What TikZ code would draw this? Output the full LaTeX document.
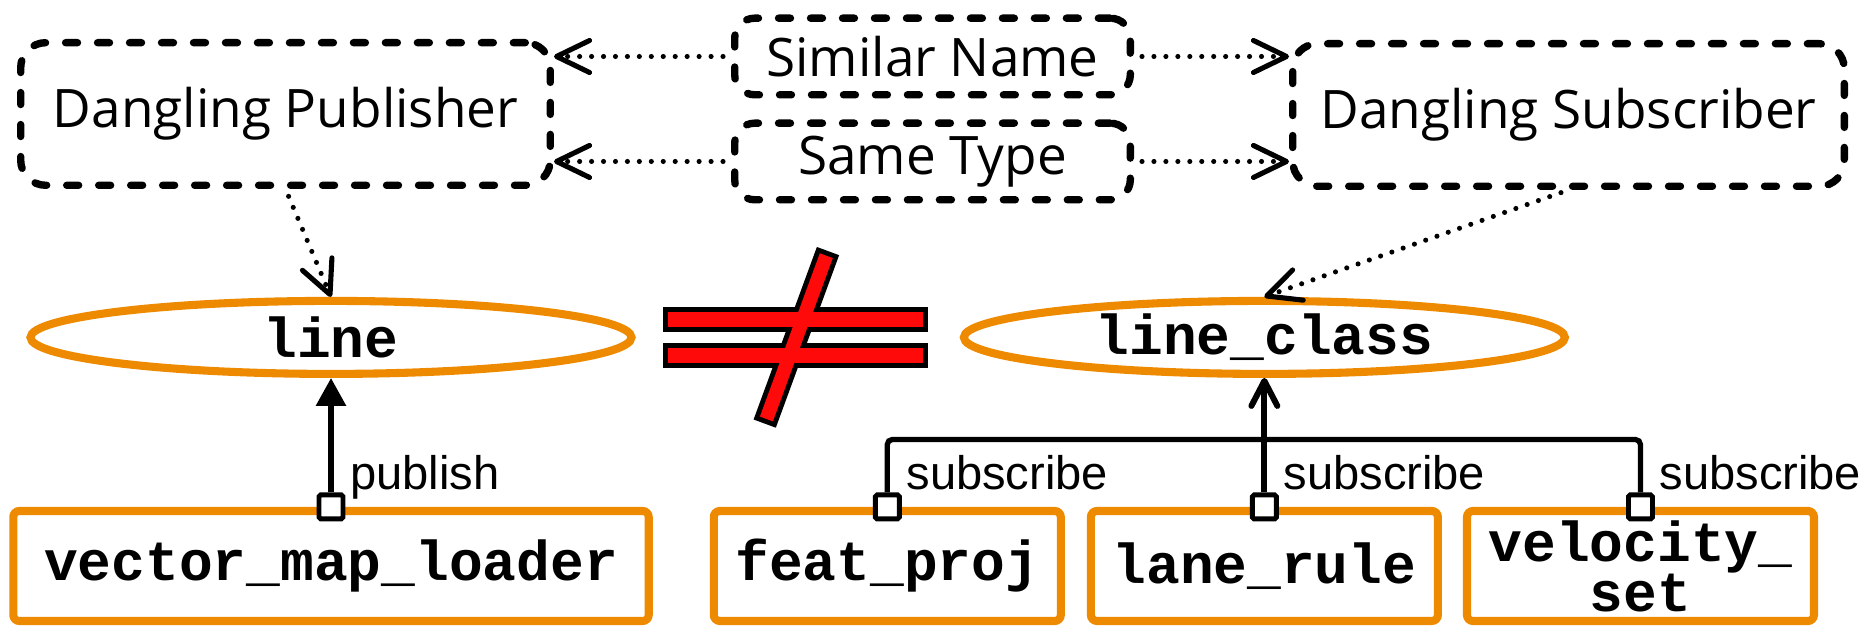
\documentclass[tikz,border=0pt]{standalone}
\usepackage{fontspec}
\setmainfont{Open Sans}
\setmonofont{Liberation Mono}
\newfontfamily\labelfont{Liberation Sans}
\usetikzlibrary{arrows.meta,positioning,shapes.geometric}
\definecolor{topic}{HTML}{EE8A00}
\definecolor{ink}{HTML}{000000}
\definecolor{warn}{HTML}{FF0A0A}
\tikzset{
  every node/.style={text=ink},
  dangbox/.style={draw=ink,line width=2.1pt,dash pattern=on 3.4pt off 5.7pt,line cap=round,rounded corners=2.5mm,minimum width=52.96mm,minimum height=14.26mm,align=center,inner sep=2pt,font=\fontsize{15.1}{18}\selectfont},
  hintbox/.style={dangbox,minimum width=39.56mm,minimum height=7.66mm,rounded corners=2mm},
  topicnode/.style={ellipse,draw=topic,line width=2.3pt,minimum width=60.1mm,minimum height=7.3mm,inner sep=0pt,font=\fontsize{16}{14.2}\selectfont\ttfamily\bfseries},
  procbox/.style={draw=topic,line width=2.3pt,rounded corners=0.6mm,minimum width=34.7mm,minimum height=11mm,inner sep=1pt,align=center,font=\fontsize{16}{14.2}\selectfont\ttfamily\bfseries},
  port/.style={draw=ink,fill=white,line width=1.4pt,minimum size=2.4mm,inner sep=0pt,rounded corners=0.5pt},
  plabel/.style={anchor=base west,inner sep=0pt,font=\labelfont\fontsize{13.4}{14}\selectfont},
  dotarr/.style={-{Straight Barb[length=3.3mm,width=3.2mm,round]},line width=1.45pt,line cap=round,dash pattern=on 0pt off 3.4pt,shorten <=0.8mm},
  pubarr/.style={-{Triangle[length=2.8mm,width=2.9mm]},line width=1.7pt},
  subarr/.style={-{Straight Barb[length=2.5mm,width=2.6mm,round]},line width=1.7pt},
  bus/.style={line width=1.5pt,rounded corners=0.5mm},
  neq/.style={line width=2.8pt},
}

\begin{document}
\begin{tikzpicture}
\useasboundingbox (0,0) rectangle (18.68,6.27);

% processes
\node[procbox,minimum width=63.54mm] (vml) at (3.31,0.61) {vector\_map\_loader};
\node[procbox,right=5.7mm of vml] (fp) {feat\_proj};
\node[procbox,right=2.2mm of fp] (lr) {lane\_rule};
\node[procbox,right=2.1mm of lr] (vs) {velocity\_\\set};

% topics
\node[topicnode,above=12.9mm of vml] (lne) {line};
\node[topicnode,above=12.9mm of lr] (lc) {line\_class};

% dangling ends
\node[dangbox] (pub) at (2.855,5.13) {Dangling Publisher};
\node[dangbox,minimum width=55.16mm] (sub) at (15.685,5.12) {Dangling Subscriber};
\node[hintbox] (sim) at (9.325,5.705) {Similar Name};
\node[hintbox,below=2.1mm of sim] (same) {Same Type};

% not equal
\draw[neq] (6.68,3.00) rectangle (9.23,3.15) (6.68,2.64) rectangle (9.23,2.79)
  (7.599,2.104) -- (7.729,2.056) -- (8.328,3.689) -- (8.198,3.737) -- cycle;
\fill[warn] (6.68,3.00) rectangle (9.23,3.15);
\fill[warn] (6.68,2.64) rectangle (9.23,2.79);
\fill[warn] (7.599,2.104) -- (7.729,2.056) -- (8.328,3.689) -- (8.198,3.737) -- cycle;

% links
\draw[dotarr] (sim.west) -- (sim.west -| pub.east);
\draw[dotarr] (sim.east) -- (sim.east -| sub.west);
\draw[dotarr] (same.west) -- (same.west -| pub.east);
\draw[dotarr] (same.east) -- (same.east -| sub.west);
\draw[dotarr] (pub.south) -- (lne.north);
\draw[dotarr] (sub.south) -- (lc.north);

% ports
\node[port] (pm) at (vml.north) {};
\node[port] (pf) at (fp.north) {};
\node[port] (pl) at (lr.north) {};
\node[port] (pv) at (vs.north) {};

\draw[pubarr] (pm.north) -- (pm.north |- lne.south);
\coordinate (busl) at ([yshift=5.3mm]pf.north);
\draw[bus] (pf.north) -- (busl) -| (pv.north);
\draw[subarr] (pl.north) -- (pl.north |- lc.south);

\node[plabel] (lpub) at ([xshift=0.4mm,yshift=0.3mm]pm.north east) {publish};
\node[plabel] (lsf) at ([xshift=0.4mm,yshift=0.3mm]pf.north east) {subscribe};
\node[plabel] (lsl) at ([xshift=0.4mm,yshift=0.3mm]pl.north east) {subscribe};
\node[plabel] (lsv) at ([xshift=0.4mm,yshift=0.3mm]pv.north east) {subscribe};

\end{tikzpicture}
\end{document}
